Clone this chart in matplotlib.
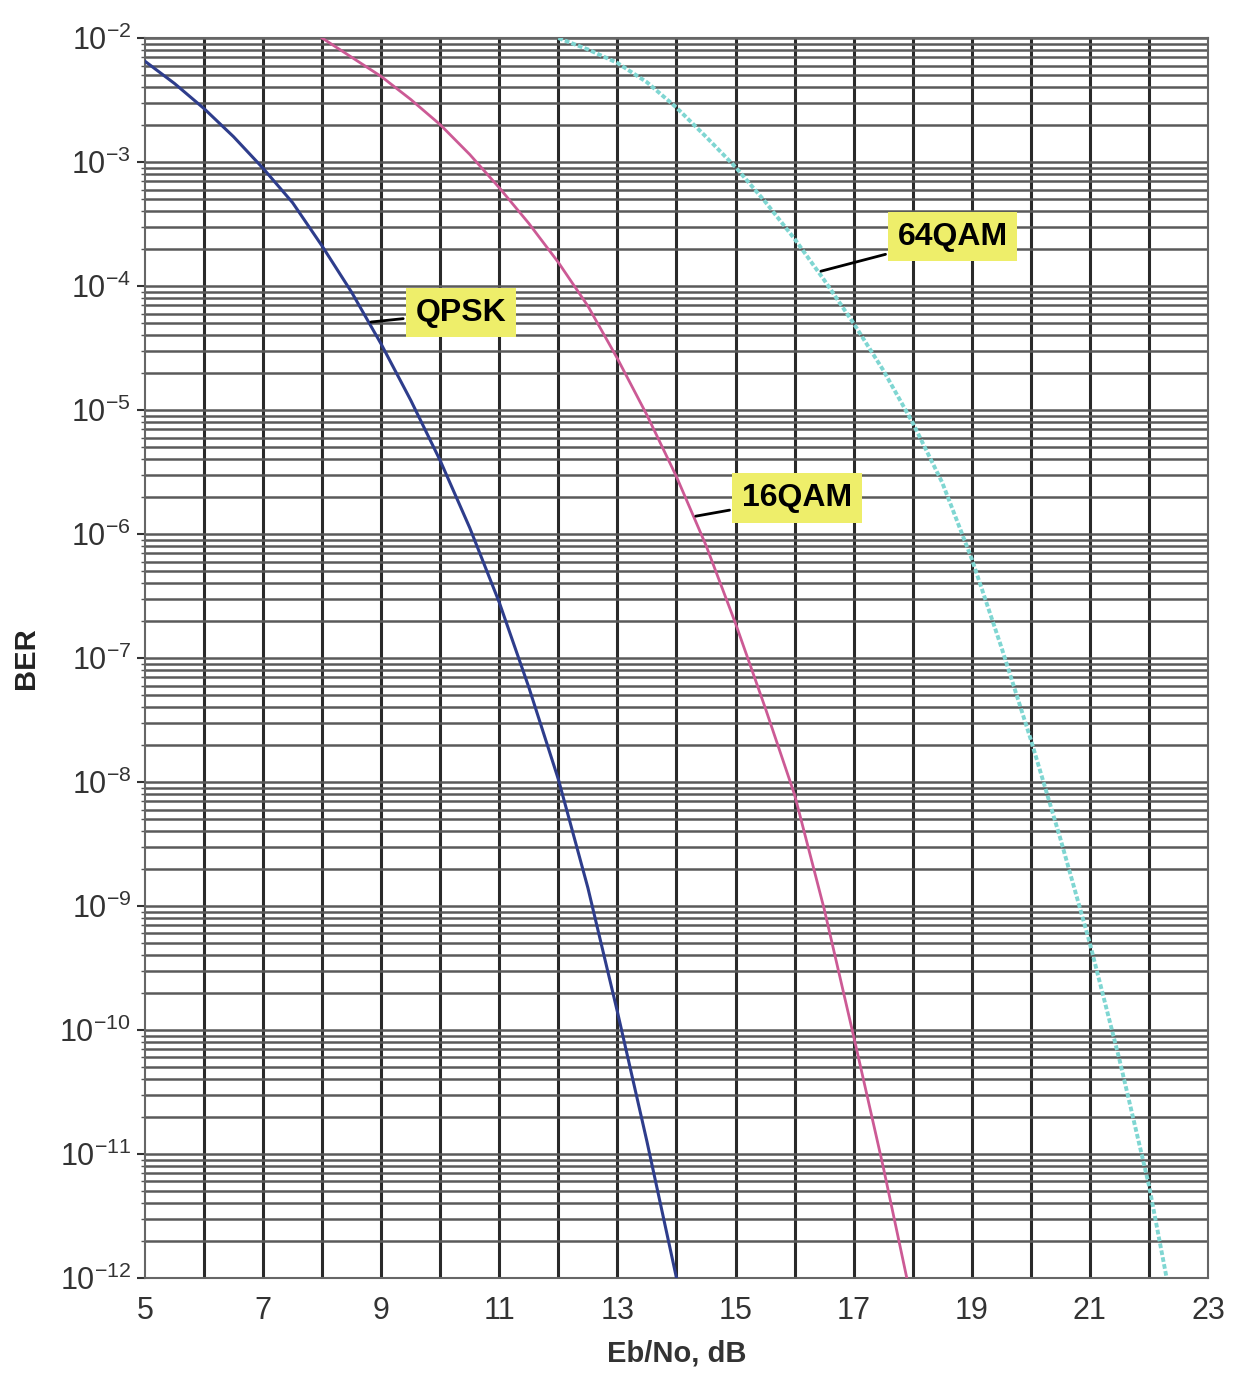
import matplotlib
matplotlib.use("Agg")
import matplotlib.pyplot as plt
from matplotlib.ticker import FixedLocator, LogLocator, NullFormatter

plt.rcParams['font.family'] = ['Liberation Sans', 'DejaVu Sans']
plt.rcParams['mathtext.fontset'] = 'custom'
plt.rcParams['mathtext.rm'] = 'Liberation Sans'
plt.rcParams['mathtext.it'] = 'Liberation Sans:italic'
plt.rcParams['mathtext.bf'] = 'Liberation Sans:bold'

# Eb/No (dB) and BER
ebno_qpsk = [5, 5.5, 6, 6.5, 7, 7.5, 8, 8.5, 9, 9.5, 10, 10.5, 11, 11.5, 12, 12.5, 13, 13.5, 14]
ber_qpsk = [6.5e-3, 4.3e-3, 2.7e-3, 1.6e-3, 8.9e-4, 4.7e-4, 2.1e-4, 8.9e-5, 3.4e-5, 1.2e-5,
            3.9e-6, 1.12e-6, 2.8e-7, 5.8e-8, 1.05e-8, 1.4e-9, 1.4e-10, 1.26e-11, 1.0e-12]

ebno_16qam = [8, 8.5, 9, 9.5, 10, 10.5, 11, 11.5, 12, 12.5, 13, 13.5, 14, 14.5, 15, 15.5, 16, 16.5, 17, 17.5, 17.9]
ber_16qam = [1.0e-2, 7.0e-3, 4.9e-3, 3.2e-3, 2.0e-3, 1.15e-3, 6.2e-4, 3.2e-4, 1.55e-4, 6.9e-5,
             2.6e-5, 9.1e-6, 2.9e-6, 8.1e-7, 1.9e-7, 4.0e-8, 7.9e-9, 9.5e-10, 8.9e-11, 7.9e-12, 1.0e-12]

ebno_64qam = [12, 12.5, 13, 13.5, 14, 14.5, 15, 15.5, 16, 16.5, 17, 17.5, 18, 18.5, 19, 19.5, 20, 20.5, 21, 21.5, 22, 22.3]
ber_64qam = [1.0e-2, 8.1e-3, 6.3e-3, 4.4e-3, 2.75e-3, 1.6e-3, 9.1e-4, 4.8e-4, 2.4e-4, 1.12e-4,
             5.0e-5, 2.1e-5, 7.9e-6, 2.6e-6, 6.3e-7, 1.23e-7, 2.2e-8, 3.5e-9, 5.0e-10, 5.8e-11, 5.6e-12, 1.0e-12]

x_ticks = [5, 7, 9, 11, 13, 15, 17, 19, 21, 23]
decades = list(range(-12, -1))

fig = plt.figure(figsize=(12.51, 13.74), dpi=100)
ax = fig.add_axes([0.1159, 0.0699, 0.8497, 0.9024])

ax.set_yscale('log')
ax.set_xlim(5, 23)
ax.set_ylim(1e-12, 1e-2)

# grid: vertical every dB, horizontal at every log minor step
for xv in range(6, 23):
    ax.axvline(xv, color='#2a2a2a', lw=2.2, zorder=1)
ax.yaxis.set_minor_locator(LogLocator(base=10, subs=range(2, 10), numticks=100))
ax.yaxis.set_minor_formatter(NullFormatter())
ax.grid(True, which='both', axis='y', color='#5a5a5a', lw=1.8, zorder=1)

ax.plot(ebno_qpsk, ber_qpsk, color='#2e3d8c', lw=2.2, zorder=3)
ax.plot(ebno_16qam, ber_16qam, color='#cc5a95', lw=2.0, zorder=3)
ax.plot(ebno_64qam, ber_64qam, color='#7fd6d2', lw=2.8, ls=(0, (1.2, 0.6)), zorder=3)

box = dict(boxstyle='square,pad=0.3', fc='#eeee6a', ec='none')
arrow = dict(arrowstyle='-', color='black', lw=2)
ax.annotate('QPSK', xy=(8.78, 5.1e-5), xytext=(10.35, 6.1e-5), ha='center', va='center',
            fontsize=23, fontweight='bold', bbox=box, arrowprops=arrow, zorder=5)
ax.annotate('16QAM', xy=(14.28, 1.38e-6), xytext=(16.04, 1.95e-6), ha='center', va='center',
            fontsize=23, fontweight='bold', bbox=box, arrowprops=arrow, zorder=5)
ax.annotate('64QAM', xy=(16.40, 1.3e-4), xytext=(18.68, 2.5e-4), ha='center', va='center',
            fontsize=23, fontweight='bold', bbox=box, arrowprops=arrow, zorder=5)

ax.xaxis.set_major_locator(FixedLocator(x_ticks))
ax.set_xticklabels([str(v) for v in x_ticks])
ax.yaxis.set_major_locator(FixedLocator([10.0 ** d for d in decades]))
ax.set_yticklabels([f'$10^{{{d}}}$' for d in decades])
ax.tick_params(axis='x', length=0, labelsize=22, pad=13, colors='#333333')
ax.tick_params(axis='y', which='major', length=6, width=1.5, labelsize=22, colors='#333333', pad=4)
ax.tick_params(axis='y', which='minor', length=3, width=1, colors='#555555')

for s in ax.spines.values():
    s.set_color('#666666')
    s.set_linewidth(1.5)

ax.set_xlabel('Eb/No, dB', fontsize=21, fontweight='bold', color='#333333', labelpad=10)
ax.set_ylabel('BER', fontsize=21, fontweight='bold', color='#222222', labelpad=14)

fig.savefig('out.png', dpi=100)
